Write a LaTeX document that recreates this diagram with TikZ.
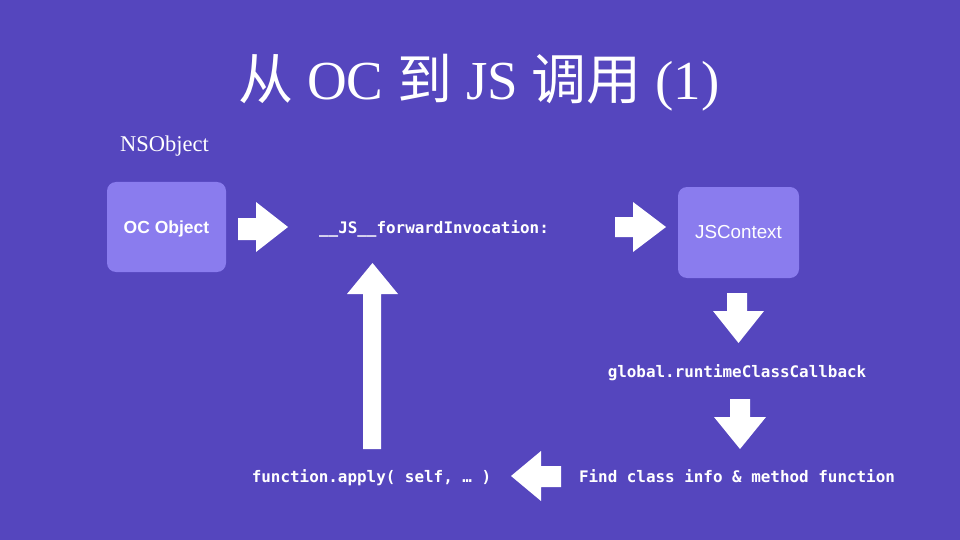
\documentclass[tikz,border=0pt]{standalone}
\usepackage{fontspec}
\setmainfont{Liberation Serif}
\newfontfamily\cjk{Noto Sans CJK SC}
\newfontfamily\monof{DejaVu Sans Mono}
\newfontfamily\helv{Liberation Sans}
\definecolor{bgc}{RGB}{85,70,190}
\definecolor{boxc}{RGB}{138,124,238}
\tikzset{
  objbox/.style={fill=boxc, rounded corners=9pt, draw=none},
  codetxt/.style={text=white, font=\monof\bfseries\fontsize{15.9}{18}\selectfont, anchor=base, inner sep=0pt},
  blockarrow/.style={fill=white, draw=none},
}
\begin{document}
\begin{tikzpicture}[x=1pt,y=-1pt]
\path[fill=bgc] (0,0) rectangle (960,540);
\useasboundingbox (0,0) rectangle (960,540);
% title
\node[text=white, anchor=base, inner sep=0pt, font=\fontsize{55}{62}\selectfont] (title) at (479,100) {{\cjk 从} OC {\cjk 到} JS {\cjk 调用} (1)};
\node[text=white, anchor=base, inner sep=0pt, font=\fontsize{22.5}{26}\selectfont] (nsobj) at (164.5,152) {NSObject};
% boxes
\path[objbox] (107,182) rectangle (226,272);
\node[text=white, anchor=base, inner sep=0pt, font=\helv\bfseries\fontsize{17.5}{20}\selectfont] (oc) at (166.5,233.5) {OC Object};
\path[objbox] (678,187) rectangle (799,278);
\node[text=white, anchor=base, inner sep=0pt, font=\helv\fontsize{18.8}{21}\selectfont] (jsc) at (738.5,238.5) {JSContext};
% texts
\node[codetxt] (fwd) at (434,233) {\_\_JS\_\_forwardInvocation:};
\node[codetxt] (glob) at (737,377) {global.runtimeClassCallback};
\node[codetxt] (find) at (737,482) {Find class info \& method function};
\node[codetxt] (apply) at (371.5,482) {function.apply( self, … )};
% arrows
\path[blockarrow] (238,218) -- (256,218) -- (256,202) -- (288,227) -- (256,252) -- (256,240) -- (238,240) -- cycle;
\path[blockarrow] (615,217) -- (633,217) -- (633,202) -- (666,227) -- (633,252) -- (633,237) -- (615,237) -- cycle;
\path[blockarrow] (727,293) -- (747,293) -- (747,311) -- (764,311) -- (738.5,343) -- (713,311) -- (727,311) -- cycle;
\path[blockarrow] (730,399) -- (750,399) -- (750,417) -- (766,417) -- (740,449) -- (714,417) -- (730,417) -- cycle;
\path[blockarrow] (561,466) -- (541,466) -- (541,451) -- (511,476) -- (541,501) -- (541,487) -- (561,487) -- cycle;
\path[blockarrow] (363,449) -- (363,294) -- (347,294) -- (372.5,263) -- (398,294) -- (381,294) -- (381,449) -- cycle;
\end{tikzpicture}
\end{document}
